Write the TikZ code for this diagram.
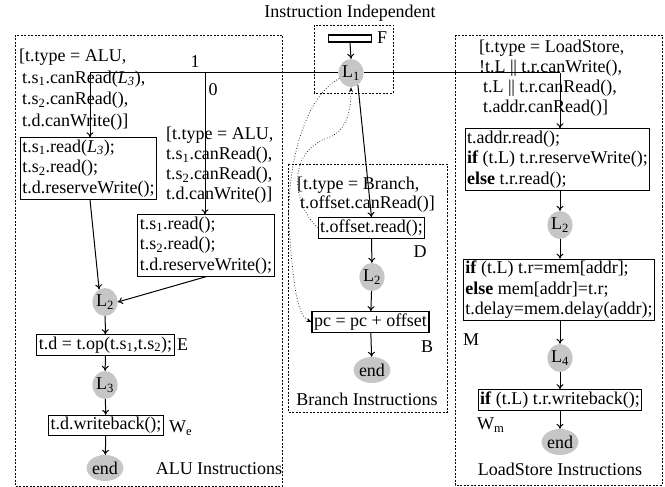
\documentclass[tikz,border=0pt]{standalone}
\usepackage{fontspec}
\setmainfont{Liberation Serif}
\usetikzlibrary{arrows.meta,shapes.geometric}
\tikzset{
 every node/.style={font=\fontsize{18}{20.5}\selectfont, inner sep=0pt},
 box/.style={draw, line width=1.1pt, inner sep=2pt, align=left},
 loc/.style={ellipse, fill=gray!45, minimum width=24pt, minimum height=28pt, inner sep=0pt},
 fin/.style={ellipse, fill=gray!45, minimum width=34pt, minimum height=26pt, inner sep=0pt},
 grp/.style={draw, dash pattern=on 2pt off 1.5pt, line width=0.5pt},
 arr/.style={-{To[length=5pt,width=7pt]}, line width=1pt},
 plain/.style={line width=1pt},
 dots/.style={dotted, line width=0.7pt, -{Stealth[length=5pt,width=4pt]}},
 guard/.style={align=left, anchor=north west},
 lab/.style={anchor=west}
}
\newcommand{\sbs}[1]{\textsubscript{#1}}
\begin{document}
\begin{tikzpicture}[x=1pt,y=-1pt]
\useasboundingbox (0,0) rectangle (665,487);
% groups
\draw[grp] (15,35) rectangle (282,486);
\draw[grp] (288,164) rectangle (447,412);
\draw[grp] (455,35) rectangle (662,485);
\draw[grp] (314,25) rectangle (393,93);
\node (title) at (350,13) {Instruction Independent};
% instruction independent
\node[draw, line width=1.1pt, minimum width=43pt, minimum height=7pt] (fbar) at (350,38.5) {};
\node[lab] (flab) at (377,38) {F};
\node[loc] (L1) at (351,73) {L\sbs{1}};
% ALU
\node[guard, font=\fontsize{18}{21.5}\selectfont] (g1) at (19,49) {[t.type = ALU,\\ \hspace*{3pt}t.s\sbs{1}.canRead(\textit{L\sbs{3}}),\\ \hspace*{3pt}t.s\sbs{2}.canRead(),\\ \hspace*{3pt}t.d.canWrite()]};
\node[box] (b1) at (88.5,168.5) {t.s\sbs{1}.read(\textit{L\sbs{3}});\\ t.s\sbs{2}.read();\\ t.d.reserveWrite();};
\node[guard, font=\fontsize{18}{20}\selectfont] (g2) at (166,127) {[t.type = ALU,\\ t.s\sbs{1}.canRead(),\\ t.s\sbs{2}.canRead(),\\ t.d.canWrite()]};
\node[box] (b2) at (206,245.5) {t.s\sbs{1}.read();\\ t.s\sbs{2}.read();\\ t.d.reserveWrite();};
\node (one) at (195,62) {1};
\node (zero) at (213,90) {0};
\node[loc] (L2a) at (105,302) {L\sbs{2}};
\node[box] (bE) at (105.5,345) {t.d = t.op(t.s\sbs{1},t.s\sbs{2});};
\node[lab] (Elab) at (177,345) {E};
\node[loc] (L3) at (105,385) {L\sbs{3}};
\node[box] (bW) at (106,425.5) {t.d.writeback();};
\node[lab] (Wlab) at (169,428) {W\sbs{e}};
\node[fin] (enda) at (105,468) {end};
\node (alut) at (219,469) {ALU Instructions};
% Branch
\node[guard, font=\fontsize{18}{19}\selectfont] (g3) at (297,177) {[t.type = Branch,\\ \hspace*{3pt}t.offset.canRead()]};
\node[box] (bD) at (371.5,228) {t.offset.read();};
\node (Dlab) at (420,252) {D};
\node[loc] (L2b) at (372,277) {L\sbs{2}};
\node[box] (pc) at (370.5,322) {pc = pc + offset};
\node (Blab) at (427,347) {B};
\node[fin] (endb) at (372,370) {end};
\node (brt) at (367,399) {Branch Instructions};
% LoadStore
\node[guard, font=\fontsize{18}{20}\selectfont] (g4) at (479,40) {[t.type = LoadStore,\\ !t.L |\kern-0.5pt| t.r.canWrite(),\\ \hspace*{4pt}t.L |\kern-0.5pt| t.r.canRead(),\\ \hspace*{4pt}t.addr.canRead()]};
\node[box] (bL1) at (557.5,159.5) {t.addr.read();\\ \textbf{if} (t.L) t.r.reserveWrite();\\ \textbf{else} t.r.read();};
\node[loc] (L2c) at (560,225) {L\sbs{2}};
\node[box] (bM) at (559,290) {\textbf{if} (t.L) t.r=mem[addr];\\ \textbf{else} mem[addr]=t.r;\\ t.delay=mem.delay(addr);};
\node[lab] (Mlab) at (463,340) {M};
\node[loc] (L4) at (560,358) {L\sbs{4}};
\node[box] (bWm) at (560,400) {\textbf{if} (t.L) t.r.writeback();};
\node[lab] (Wmlab) at (477,425) {W\sbs{m}};
\node[fin] (endc) at (560,442) {end};
\node (lst) at (560,469) {LoadStore Instructions};
% connectors
\coordinate (cL) at (90,73);
\coordinate (c0) at (205,73);
\coordinate (cR) at (560,73);
\draw[arr] (fbar.south) -- (L1.north);
\draw[plain] (L1.west) -- (cL);
\draw[arr] (cL) -- (b1.north -| cL);
\draw[arr] (c0) -- (b2.north -| c0);
\draw[plain] (L1.east) -- (cR);
\draw[arr] (cR) -- (bL1.north -| cR);
\draw[arr] (b1.south -| cL) -- (L2a.115);
\draw[arr] (b2.south) -- (L2a.east);
\draw[arr] (L2a) -- (bE);
\draw[arr] (bE) -- (L3);
\draw[arr] (L3) -- (bW);
\draw[arr] (bW) -- (enda);
\draw[arr] (L1.-60) -- (bD.north);
\draw[arr] (bD) -- (L2b);
\draw[arr] (L2b) -- (pc);
\draw[arr] (pc) -- (endb);
\draw[arr] (bL1.south -| cR) -- (L2c);
\draw[arr] (L2c) -- (bM.north -| L2c);
\draw[arr] (bM.south -| L4) -- (L4);
\draw[arr] (L4) -- (bWm);
\draw[arr] (bWm) -- (endc);
\draw[dots] (bD.west) .. controls (290,200) and (288,150) .. (330,137) .. controls (347,130) and (351,110) .. (L1.south);
\draw[dots] (L1.205) .. controls (300,100) and (284,180) .. (290,240) .. controls (294,290) and (298,316) .. (pc.west);
\end{tikzpicture}
\end{document}
